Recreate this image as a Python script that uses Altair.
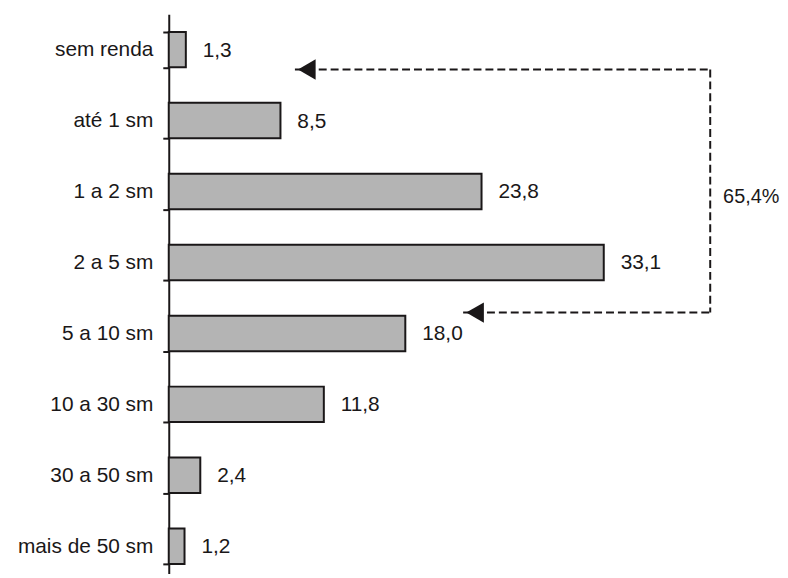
import altair as alt
import pandas as pd

# --- data ---
categories = ["sem renda", "até 1 sm", "1 a 2 sm", "2 a 5 sm", "5 a 10 sm",
              "10 a 30 sm", "30 a 50 sm", "mais de 50 sm"]
values = [1.3, 8.5, 23.8, 33.1, 18.0, 11.8, 2.4, 1.2]
value_labels = ["1,3", "8,5", "23,8", "33,1", "18,0", "11,8", "2,4", "1,2"]

# bracket annotation (data units on the x scale, categories on y)
bracket_top_cat = "sem renda"
bracket_bottom_cat = "5 a 10 sm"
bracket_text_cat = "1 a 2 sm"
bracket_top_tip = 9.6
bracket_bottom_tip = 22.4
bracket_right = 41.2
bracket_label = "65,4%"

FONT = "Liberation Sans"
INK = "#1a1718"

df = pd.DataFrame({"cat": categories, "val": values, "lab": value_labels})

xs = alt.Scale(domain=[0, 45], nice=False, zero=True)
ys = alt.Scale(domain=categories, range=[0, 572], paddingInner=0.5, paddingOuter=0.25)

base = alt.Chart(df)

bars = base.mark_bar(fill="#b4b4b4", stroke=INK, strokeWidth=2).encode(
    x=alt.X("val:Q", scale=xs, axis=None),
    y=alt.Y("cat:N", scale=ys, sort=categories, title=None,
            axis=alt.Axis(tickBand="extent", tickSize=6, tickWidth=2, tickColor=INK,
                          domainColor=INK, domainWidth=2, labelPadding=10,
                          labelFont=FONT, labelFontSize=21, labelColor=INK,
                          grid=False)),
)

texts = base.mark_text(align="left", baseline="middle", dx=17, dy=1,
                       font=FONT, fontSize=21, color=INK).encode(
    x=alt.X("val:Q", scale=xs),
    y=alt.Y("cat:N", scale=ys, sort=categories),
    text="lab:N",
)

top_df = pd.DataFrame({"cat": [bracket_top_cat], "x": [bracket_top_tip], "x2": [bracket_right]})
bot_df = pd.DataFrame({"cat": [bracket_bottom_cat], "x": [bracket_bottom_tip], "x2": [bracket_right]})
vert_df = pd.DataFrame({"c1": [bracket_top_cat], "c2": [bracket_bottom_cat], "x": [bracket_right]})
txt_df = pd.DataFrame({"cat": [bracket_text_cat], "x": [bracket_right], "t": [bracket_label]})

dash = dict(color=INK, strokeWidth=2, strokeDash=[8, 4])

top_line = alt.Chart(top_df).mark_rule(yOffset=20, **dash).encode(
    x=alt.X("x:Q", scale=xs), x2="x2:Q", y=alt.Y("cat:N", scale=ys, sort=categories))
bot_line = alt.Chart(bot_df).mark_rule(yOffset=-21, **dash).encode(
    x=alt.X("x:Q", scale=xs), x2="x2:Q", y=alt.Y("cat:N", scale=ys, sort=categories))
vert_line = alt.Chart(vert_df).mark_rule(yOffset=20, y2Offset=-21, **dash).encode(
    x=alt.X("x:Q", scale=xs), y=alt.Y("c1:N", scale=ys, sort=categories), y2="c2:N")

top_arrow = alt.Chart(top_df).mark_point(shape="triangle-left", filled=True, size=420,
                                         color=INK, opacity=1, xOffset=12, yOffset=20).encode(
    x=alt.X("x:Q", scale=xs), y=alt.Y("cat:N", scale=ys, sort=categories))
bot_arrow = alt.Chart(bot_df).mark_point(shape="triangle-left", filled=True, size=420,
                                         color=INK, opacity=1, xOffset=12, yOffset=-21).encode(
    x=alt.X("x:Q", scale=xs), y=alt.Y("cat:N", scale=ys, sort=categories))

pct = alt.Chart(txt_df).mark_text(align="left", baseline="middle", dx=13, dy=6,
                                  font=FONT, fontSize=20, color=INK).encode(
    x=alt.X("x:Q", scale=xs), y=alt.Y("cat:N", scale=ys, sort=categories), text="t:N")

chart = alt.layer(bars, texts, top_line, bot_line, vert_line, top_arrow, bot_arrow, pct).properties(
    width=596, height=562,
    autosize=alt.AutoSizeParams(type="none"),
    padding={"left": 162, "top": 4, "right": 20, "bottom": 0},
    background="white",
).configure_view(stroke=None)

chart.save("out.html", embed_options={"renderer": "svg", "actions": False})
